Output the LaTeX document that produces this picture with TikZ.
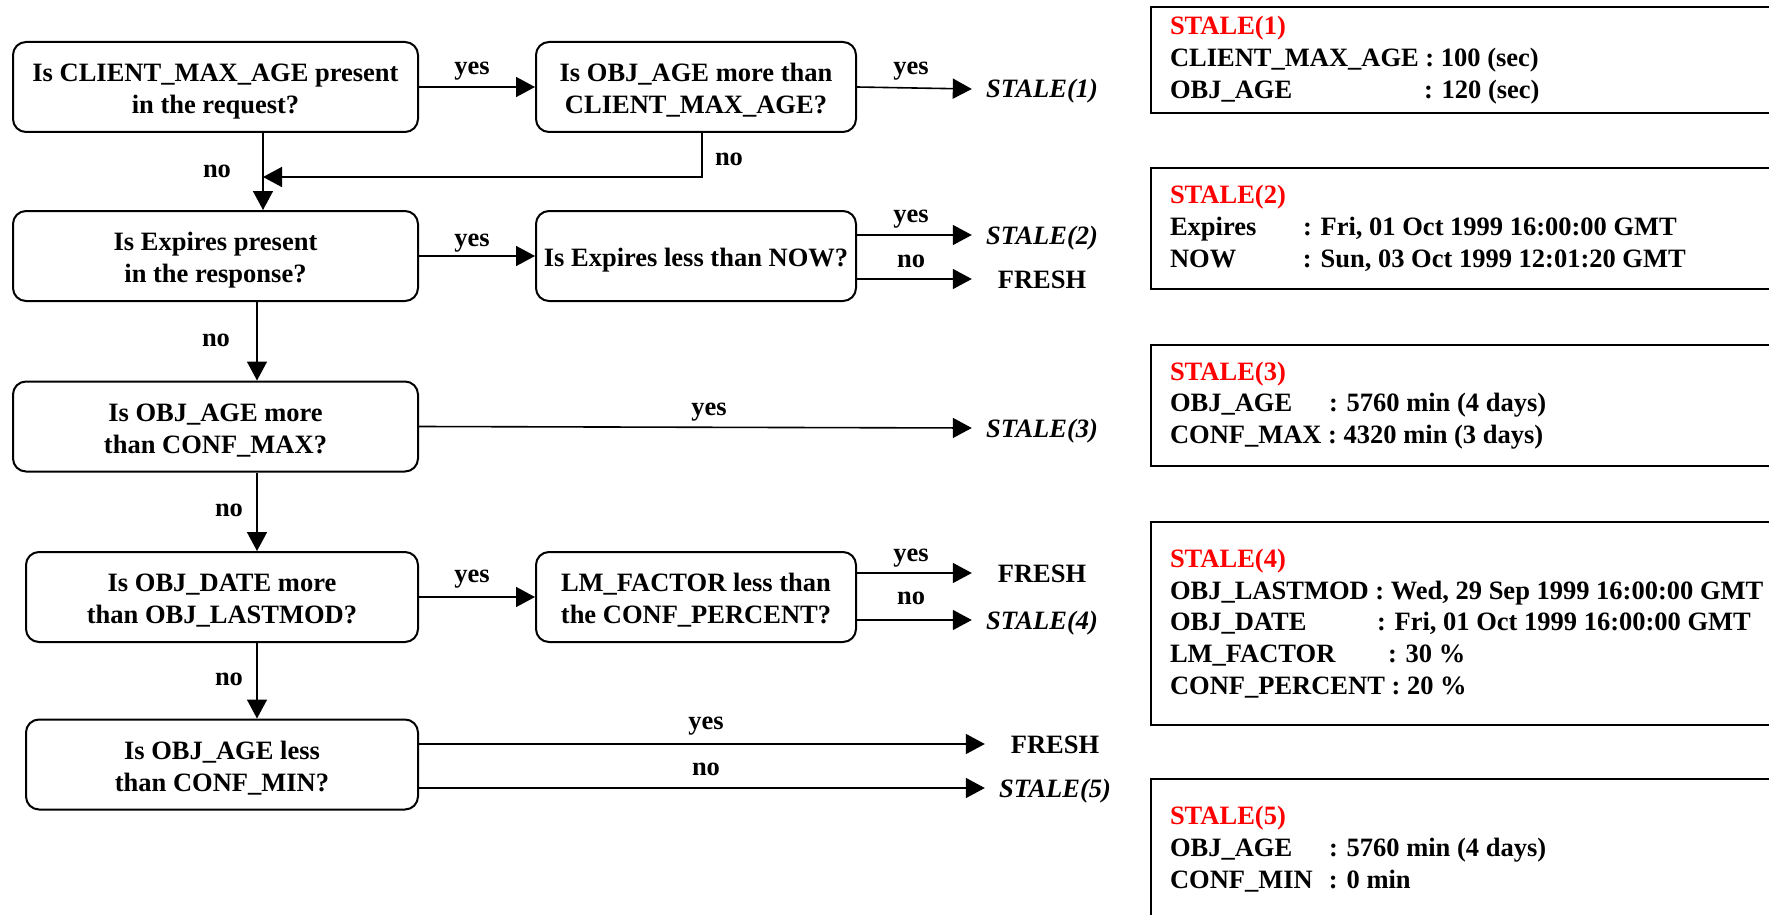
\documentclass[tikz,border=0pt]{standalone}
\usepackage{fontspec}
\setmainfont{Liberation Serif}
\usetikzlibrary{arrows.meta,positioning}
\newcommand{\qlines}[1]{\raisebox{0pt}[\dimexpr\height+9pt\relax][\depth]{\begin{tabular}{@{}c@{}}#1\end{tabular}}}

\begin{document}
\begin{tikzpicture}[x=1pt,y=-1pt,node distance=0pt,
  every node/.style={font=\fontsize{26.5}{31.7}\selectfont\bfseries},
  test/.style={draw,rectangle,rounded corners=13pt,line width=2pt,inner xsep=4pt,minimum height=90pt},
  outc/.style={minimum width=140pt,inner sep=0pt,text height=18pt,text depth=0pt},
  stale/.style={outc,font=\fontsize{26.5}{31.7}\selectfont\bfseries\itshape},
  lbl/.style={anchor=base,inner sep=0pt},
  info/.style={draw,rectangle,line width=2pt,anchor=west,minimum width=700pt,inner xsep=19pt},
  arr/.style={line width=1.6pt,-{Triangle[length=19pt,width=20pt]}}]
\useasboundingbox (0,0) rectangle (1769,915);

\coordinate (j1) at (263,177);
\coordinate (j2) at (702,177);
\coordinate (spine) at (257,0);

\node[test,minimum width=405pt] (qmax) at (215.5,87) {\qlines{Is CLIENT\_MAX\_AGE present\\in the request?}};
\node[test,minimum width=320pt,right=116pt of qmax] (qage) {\qlines{Is OBJ\_AGE more than\\CLIENT\_MAX\_AGE?}};
\node[test,minimum width=405pt] (qexp) at (215.5,256) {\qlines{Is Expires present\\in the response?}};
\node[test,minimum width=320pt,right=116pt of qexp] (qnow) {\qlines{Is Expires less than NOW?}};
\node[test,minimum width=405pt] (qconf) at (215.5,426.5) {\qlines{Is OBJ\_AGE more\\than CONF\_MAX?}};
\node[test,minimum width=392pt] (qdate) at (222,597) {\qlines{Is OBJ\_DATE more\\than OBJ\_LASTMOD?}};
\node[test,minimum width=320pt,right=116pt of qdate] (qlm) {\qlines{LM\_FACTOR less than\\the CONF\_PERCENT?}};
\node[test,minimum width=392pt] (qmin) at (222,764.5) {\qlines{Is OBJ\_AGE less\\than CONF\_MIN?}};

\node[stale] (s1) at (1042,89) {STALE(1)};
\node[stale] (s2) at (1042,235) {STALE(2)};
\node[outc] (f2) at (1042,279) {FRESH};
\node[stale] (s3) at (1042,428) {STALE(3)};
\node[outc] (f4) at (1042,573) {FRESH};
\node[stale] (s4) at (1042,620) {STALE(4)};
\node[outc] (f5) at (1055,744) {FRESH};
\node[stale] (s5) at (1055,788) {STALE(5)};

\draw[arr] (qmax) -- (qage);
\draw[arr] (qage.east) -- (s1.west);
\draw[arr] (qage.south -| j2) -- (j2) -- (j1);
\draw[arr] (qmax.south -| j1) -- (qexp.north -| j1);
\draw[arr] (qexp) -- (qnow);
\draw[arr] (qnow.east |- s2.west) -- (s2.west);
\draw[arr] (qnow.east |- f2.west) -- (f2.west);
\draw[arr] (qexp.south -| spine) -- (qconf.north -| spine);
\draw[arr] (qconf.east) -- (s3.west);
\draw[arr] (qconf.south -| spine) -- (qdate.north -| spine);
\draw[arr] (qdate) -- (qlm);
\draw[arr] (qlm.east |- f4.west) -- (f4.west);
\draw[arr] (qlm.east |- s4.west) -- (s4.west);
\draw[arr] (qdate.south -| spine) -- (qmin.north -| spine);
\draw[arr] (qmin.east |- f5.west) -- (f5.west);
\draw[arr] (qmin.east |- s5.west) -- (s5.west);

\node[lbl] (y1) at (472,75) {yes};
\node[lbl] (y2) at (911,75) {yes};
\node[lbl] (n1) at (217,177) {no};
\node[lbl] (n2) at (729,165) {no};
\node[lbl] (y3) at (472,246) {yes};
\node[lbl] (y4) at (911,222) {yes};
\node[lbl] (n3) at (911,267) {no};
\node[lbl] (n4) at (216,346) {no};
\node[lbl] (y5) at (709,415) {yes};
\node[lbl] (n5) at (229,516) {no};
\node[lbl] (y6) at (472,582) {yes};
\node[lbl] (y7) at (911,561) {yes};
\node[lbl] (n6) at (911,604) {no};
\node[lbl] (n7) at (229,685) {no};
\node[lbl] (y8) at (706,729) {yes};
\node[lbl] (n8) at (706,775) {no};

\node[info,minimum height=106pt] (stale1) at (1150,60) {\parbox{662pt}{\textcolor{red}{STALE(1)}\\
CLIENT\_MAX\_AGE : 100 (sec)\\
\makebox[254pt][l]{OBJ\_AGE}: 120 (sec)}};
\node[info,minimum height=121pt] (stale2) at (1150,228.5) {\parbox{662pt}{\textcolor{red}{STALE(2)}\\
\makebox[133pt][l]{Expires}: Fri, 01 Oct 1999 16:00:00 GMT\\
\makebox[133pt][l]{NOW}: Sun, 03 Oct 1999 12:01:20 GMT}};
\node[info,minimum height=121pt] (stale3) at (1150,405.5) {\parbox{662pt}{\textcolor{red}{STALE(3)}\\
\makebox[159pt][l]{OBJ\_AGE}: 5760 min (4 days)\\
CONF\_MAX : 4320 min (3 days)}};
\node[info,minimum height=203pt] (stale4) at (1150,623.5) {\parbox{662pt}{\textcolor{red}{STALE(4)}\\
OBJ\_LASTMOD : Wed, 29 Sep 1999 16:00:00 GMT\\
\makebox[207pt][l]{OBJ\_DATE}: Fri, 01 Oct 1999 16:00:00 GMT\\
\makebox[218pt][l]{LM\_FACTOR}: 30 \%\\
CONF\_PERCENT : 20 \%}};
\node[info,minimum height=140pt] (stale5) at (1150,849) {\parbox{662pt}{\textcolor{red}{STALE(5)}\\
\makebox[159pt][l]{OBJ\_AGE}: 5760 min (4 days)\\
\makebox[159pt][l]{CONF\_MIN}: 0 min}};
\end{tikzpicture}
\end{document}
